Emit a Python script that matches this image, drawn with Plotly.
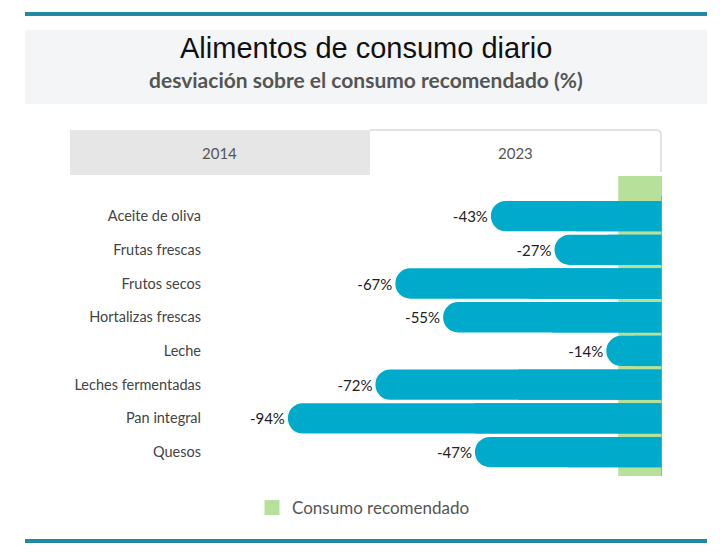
import plotly.graph_objects as go

categories = ["Aceite de oliva", "Frutas frescas", "Frutos secos", "Hortalizas frescas",
              "Leche", "Leches fermentadas", "Pan integral", "Quesos"]
deviation_2023 = [-43, -27, -67, -55, -14, -72, -94, -47]
recommended_band = [-11, 0]
tab_labels = ["2014", "2023"]
legend_label = "Consumo recomendado"

OFF = 8  # page body margin
W, H = 720 - OFF, 553 - OFF
L, R, T, B = 264, 662, 176, 476  # screen pixels of plot area
BAR = "#00aacb"
GREEN = "#b7e19b"


def px(x):
    return (x - L) / (R - L)


def py(y):
    return (B - y) / (B - T)


fig = go.Figure()

fig.add_trace(go.Bar(
    y=categories, x=deviation_2023, orientation="h",
    marker=dict(color=BAR, cornerradius=15, line=dict(width=0)),
    text=[f"{v}%" for v in deviation_2023], textposition="outside",
    textfont=dict(family="Lato", size=15, color="#222"),
    cliponaxis=False, showlegend=False, hoverinfo="skip",
))
fig.add_trace(go.Bar(
    y=categories, x=[v / 2 for v in deviation_2023], orientation="h",
    marker=dict(color=BAR, line=dict(width=0)),
    showlegend=False, hoverinfo="skip",
))
fig.add_trace(go.Scatter(
    x=[None], y=[None], mode="markers", name=legend_label,
    marker=dict(symbol="square", size=15, color=GREEN),
))

shapes = []
for yy in (14, 541):
    shapes.append(dict(type="line", xref="paper", yref="paper",
                       x0=px(25), x1=px(707), y0=py(yy), y1=py(yy),
                       line=dict(color="#2189a6", width=4), layer="below"))
shapes.append(dict(type="rect", xref="paper", yref="paper",
                   x0=px(25), x1=px(707), y0=py(104), y1=py(30),
                   fillcolor="#f4f5f6", line=dict(width=0), layer="below"))
shapes.append(dict(type="rect", xref="paper", yref="paper",
                   x0=px(70), x1=px(370), y0=py(175), y1=py(130),
                   fillcolor="#e6e6e6", line=dict(width=0), layer="below"))
shapes.append(dict(type="path", xref="paper", yref="paper", layer="below",
                   path=(f"M {px(370)},{py(130)} L {px(656)},{py(130)} "
                         f"Q {px(661)},{py(130)} {px(661)},{py(135)} L {px(661)},{py(172)}"),
                   line=dict(color="#e2e2e2", width=2)))
shapes.append(dict(type="rect", xref="x", yref="paper",
                   x0=recommended_band[0], x1=recommended_band[1], y0=0, y1=1,
                   fillcolor=GREEN, line=dict(width=0), layer="below"))
shapes.append(dict(type="line", xref="x", yref="paper", x0=0, x1=0,
                   y0=0, y1=py(196), line=dict(color="#9a9a9a", width=1.5), layer="above"))

annotations = [
    dict(text="Alimentos de consumo diario", xref="paper", yref="paper",
         x=px(366), y=py(48), xanchor="center", yanchor="middle", showarrow=False,
         font=dict(family="Liberation Sans", size=29, color="#111")),
    dict(text="<b>desviación sobre el consumo recomendado (%)</b>", xref="paper", yref="paper",
         x=px(366), y=py(80), xanchor="center", yanchor="middle", showarrow=False,
         font=dict(family="Lato", size=21, color="#555")),
    dict(text=tab_labels[0], xref="paper", yref="paper", x=px(219), y=py(153),
         xanchor="center", yanchor="middle",
         showarrow=False, font=dict(family="Lato", size=15, color="#555")),
    dict(text=tab_labels[1], xref="paper", yref="paper", x=px(515), y=py(153),
         xanchor="center", yanchor="middle",
         showarrow=False, font=dict(family="Lato", size=15, color="#555")),
]

fig.update_layout(
    width=W, height=H,
    margin=dict(l=L - OFF, r=W - (R - OFF), t=T - OFF, b=H - (B - OFF), autoexpand=False),
    paper_bgcolor="white", plot_bgcolor="rgba(0,0,0,0)",
    barmode="overlay", bargap=0.1,
    shapes=shapes, annotations=annotations,
    legend=dict(orientation="h", x=px(252), y=py(508), xanchor="left", yanchor="middle",
                font=dict(family="Lato", size=17, color="#555"), bgcolor="rgba(0,0,0,0)"),
    xaxis=dict(range=[-100, 0], visible=False, fixedrange=True),
    yaxis=dict(categoryorder="array", categoryarray=categories,
               range=[7.71, -1.19], showgrid=False, zeroline=False, showline=False,
               ticks="", ticklabelstandoff=62,
               tickfont=dict(family="Lato", size=14.5, color="#444")),
    font=dict(family="Lato"),
)

fig.write_html("out.html")
